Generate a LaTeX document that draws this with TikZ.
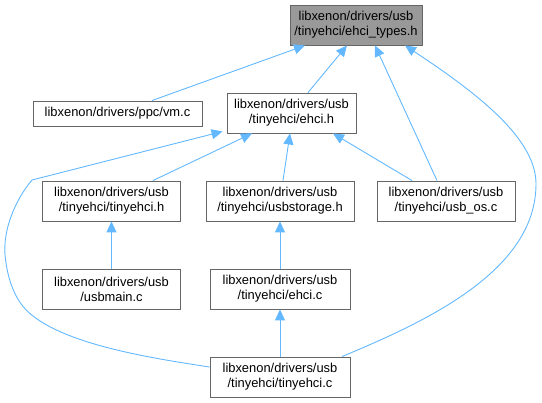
\documentclass[tikz,border=0pt]{standalone}
\usepackage{fontspec}
\setmainfont{Liberation Sans}
\usetikzlibrary{arrows.meta}
\definecolor{edgec}{HTML}{63B8FF}
\definecolor{boxc}{HTML}{666666}
\definecolor{topc}{HTML}{999999}
\begin{document}
\begin{tikzpicture}[x=1pt,y=-1pt,
 box/.style={draw=boxc, fill=white, line width=0.9pt, inner sep=0pt, minimum height=40pt, align=center, font=\fontsize{12.9}{15}\selectfont},
 edge/.style={draw=edgec, line width=0.9pt, {Triangle[length=11pt,width=10pt]}-}]
\useasboundingbox (0,0) rectangle (542,403);
\node[box, fill=topc, minimum width=132pt] (top) at (356,25) {libxenon/drivers/usb\\/tinyehci/ehci\_types.h};
\node[box, minimum width=169pt, minimum height=25pt] (vm) at (117.5,113.5) {libxenon/drivers/ppc/vm.c};
\node[box, minimum width=129pt] (eh) at (291.5,113) {libxenon/drivers/usb\\/tinyehci/ehci.h};
\node[box, minimum width=138pt] (th) at (111.5,201) {libxenon/drivers/usb\\/tinyehci/tinyehci.h};
\node[box, minimum width=148pt] (us) at (280,201) {libxenon/drivers/usb\\/tinyehci/usbstorage.h};
\node[box, minimum width=138pt] (os) at (446,201) {libxenon/drivers/usb\\/tinyehci/usb\_os.c};
\node[box, minimum width=138pt] (um) at (111.5,289) {libxenon/drivers/usb\\/usbmain.c};
\node[box, minimum width=140pt] (ec) at (280,289) {libxenon/drivers/usb\\/tinyehci/ehci.c};
\node[box, minimum width=140pt] (tc) at (280,377) {libxenon/drivers/usb\\/tinyehci/tinyehci.c};

\draw[edge] ([xshift=-51]top.south) -- ([xshift=34.5]vm.north);
\draw[edge] ([xshift=-9]top.south) -- ([xshift=16.5]eh.north);
\draw[edge] ([xshift=19]top.south) -- ([xshift=-9]os.north);
\draw[edge] ([xshift=49]top.south) .. controls (480,95) and (537,140) .. (536,185) .. controls (535,270) and (430,320) .. ([xshift=62]tc.north);

\draw[edge] ([xshift=-39.5]eh.south) -- ([xshift=41.5]th.north);
\draw[edge] ([xshift=-1.5]eh.south) -- ([xshift=3]us.north);
\draw[edge] ([xshift=41.5]eh.south) -- ([xshift=-34]os.north);
\draw[edge] ([xshift=-4,yshift=2]eh.south west) -- (32,180) .. controls (15,200) and (3,230) .. (5,255) .. controls (8,285) and (18,305) .. (33,316) .. controls (70,345) and (150,358) .. ([yshift=10]tc.west);

\draw[edge] (th.south) -- (um.north);
\draw[edge] (us.south) -- (ec.north);
\draw[edge] (ec.south) -- (tc.north);
\end{tikzpicture}
\end{document}
